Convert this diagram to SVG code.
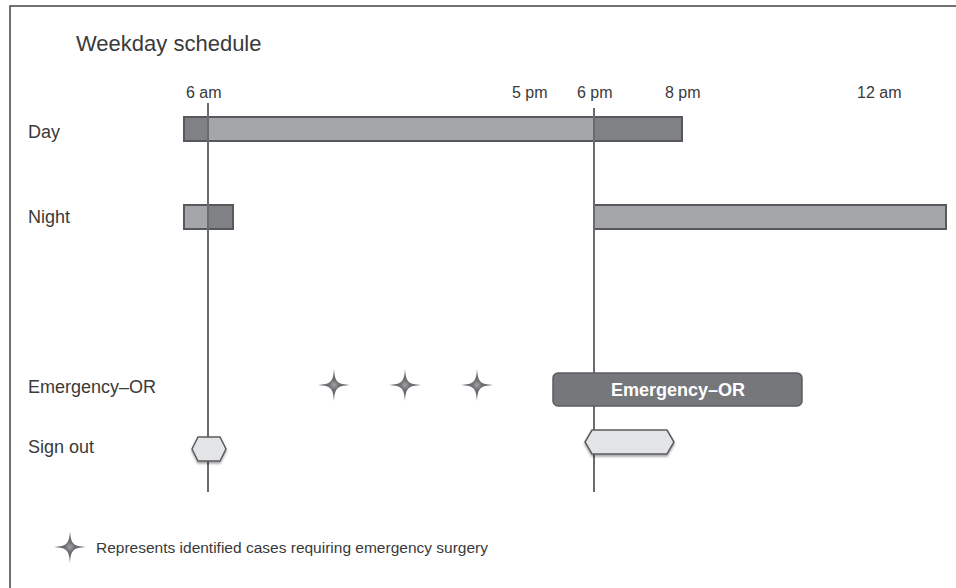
<svg xmlns="http://www.w3.org/2000/svg" width="956" height="588" viewBox="0 0 956 588">
<style>
text{font-family:"Liberation Sans",Arial,sans-serif;fill:#3a3a3a}
.lbl{font-size:18px}
.tm{font-size:16px}
.lt{fill:#a5a6a9;stroke:#58595c;stroke-width:2}
.dk{fill:#808185;stroke:#58595c;stroke-width:2}
.vl{stroke:#6a6b6e;stroke-width:2}
.hex{fill:#e3e4e5;stroke:#5a5b5e;stroke-width:1.5;filter:url(#sh)}
.star{fill:url(#sg)}
</style>
<defs>
<filter id="sh" x="-20%" y="-30%" width="140%" height="170%">
<feDropShadow dx="0" dy="2" stdDeviation="1.2" flood-color="#000" flood-opacity="0.35"/>
</filter>
<radialGradient id="sg" cx="0.5" cy="0.5" r="0.5">
<stop offset="0" stop-color="#a3a4a7"/>
<stop offset="0.3" stop-color="#6e6f73"/>
<stop offset="1" stop-color="#5e5f63"/>
</radialGradient>
<path id="st" d="M0,-16 C1,-3 3,-1 16,0 C3,1 1,3 0,16 C-1,3 -3,1 -16,0 C-3,-1 -1,-3 0,-16Z"/>
</defs>
<rect width="956" height="588" fill="#fff"/>
<rect x="10" y="6" width="960" height="600" fill="none" stroke="#444" stroke-width="1.5"/>
<text x="76" y="51" style="font-size:22px">Weekday schedule</text>
<g id="time-labels" class="tm">
<text x="186" y="98">6 am</text>
<text x="512" y="98">5 pm</text>
<text x="577" y="98">6 pm</text>
<text x="665" y="98">8 pm</text>
<text x="857" y="98">12 am</text>
</g>
<g id="row-labels" class="lbl">
<text x="28" y="138">Day</text>
<text x="28" y="223">Night</text>
<text x="28" y="393">Emergency–OR</text>
<text x="28" y="453">Sign out</text>
</g>
<g id="day">
<rect class="dk" x="184" y="117" width="24" height="24"/>
<rect class="lt" x="208" y="117" width="386" height="24"/>
<rect class="dk" x="594" y="117" width="88" height="24"/>
</g>
<g id="night">
<rect class="lt" x="184" y="205" width="24" height="24"/>
<rect class="dk" x="208" y="205" width="25" height="24"/>
<rect class="lt" x="594" y="205" width="352" height="24"/>
</g>
<g id="connectors">
<line class="vl" x1="208" y1="103" x2="208" y2="492"/>
<line class="vl" x1="594" y1="108" x2="594" y2="492"/>
</g>
<g id="emergency-or">
<rect x="553" y="373" width="249" height="33" rx="5" fill="#76777b" stroke="#5c5d60" stroke-width="1.5"/>
<text x="678" y="396" text-anchor="middle" style="font-size:18px;font-weight:bold;fill:#fff">Emergency–OR</text>
</g>
<g id="cases">
<use href="#st" class="star" x="334" y="385"/>
<use href="#st" class="star" x="405" y="385"/>
<use href="#st" class="star" x="477" y="385"/>
</g>
<g id="signout-am">
<polygon class="hex" points="192,449 198,437 220,437 226,449 220,461 198,461"/>
</g>
<g id="signout-pm">
<polygon class="hex" points="585,442 592,430 667,430 674,442 667,454 592,454"/>
</g>
<g id="legend">
<use href="#st" class="star" x="70" y="547"/>
<text x="96" y="553" style="font-size:15.5px">Represents identified cases requiring emergency surgery</text>
</g>
</svg>
